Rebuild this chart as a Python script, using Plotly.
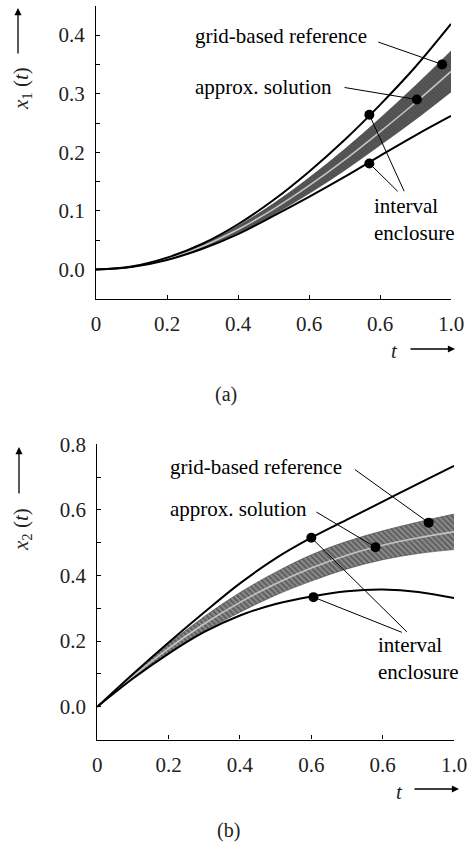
import plotly.graph_objects as go

# ---------------- data ----------------
t = [0.0, 0.1, 0.2, 0.3, 0.4, 0.5, 0.6, 0.7, 0.8, 0.9, 1.0]

# panel (a): x1(t)
x1_ref_upper = [0.0, 0.0052, 0.0202, 0.0440, 0.0772, 0.1186, 0.167, 0.221, 0.281, 0.346, 0.419]
x1_ref_lower = [0.0, 0.0042, 0.0162, 0.0355, 0.0605, 0.0915, 0.124, 0.158, 0.194, 0.229, 0.262]
x1_approx = [0.0, 0.0047, 0.0182, 0.0398, 0.0683, 0.103, 0.143, 0.187, 0.235, 0.285, 0.338]
x1_encl_upper = [0.0, 0.0051, 0.0197, 0.0433, 0.0745, 0.1125, 0.1565, 0.205, 0.258, 0.314, 0.373]
x1_encl_lower = [0.0, 0.0043, 0.0167, 0.0363, 0.0621, 0.0935, 0.1295, 0.169, 0.212, 0.256, 0.303]
x1_dot_t = [0.975, 0.904, 0.77, 0.77]
x1_dot_v = [0.350, 0.290, 0.264, 0.181]

# panel (b): x2(t)
x2_ref_upper = [0.0, 0.100, 0.196, 0.288, 0.376, 0.452, 0.515, 0.570, 0.625, 0.680, 0.734]
x2_ref_lower = [0.0, 0.086, 0.162, 0.228, 0.278, 0.313, 0.336, 0.352, 0.357, 0.350, 0.331]
x2_approx = [0.0, 0.093, 0.178, 0.253, 0.318, 0.375, 0.423, 0.462, 0.492, 0.515, 0.533]
x2_encl_upper = [0.0, 0.099, 0.192, 0.275, 0.348, 0.410, 0.463, 0.504, 0.536, 0.563, 0.587]
x2_encl_lower = [0.0, 0.087, 0.164, 0.231, 0.288, 0.340, 0.383, 0.420, 0.448, 0.467, 0.479]
x2_dot_t = [0.929, 0.78, 0.60, 0.606]
x2_dot_v = [0.561, 0.486, 0.515, 0.334]

x_tick_vals = [0, 0.2, 0.4, 0.6, 0.8, 1.0]
x_tick_text = ["0", "0.2", "0.4", "0.6", "0.6", "1.0"]
y1_tick_vals = [0.0, 0.1, 0.2, 0.3, 0.4]
y1_tick_text = ["0.0", "0.1", "0.2", "0.3", "0.4"]
y2_tick_vals = [0.0, 0.2, 0.4, 0.6, 0.8]
y2_tick_text = ["0.0", "0.2", "0.4", "0.6", "0.8"]

label_ref = "grid-based reference"
label_approx = "approx. solution"
label_encl = "interval<br>enclosure"

# ---------------- figure ----------------
W, H = 469, 844
SERIF = "Liberation Serif, Times New Roman, DejaVu Serif, serif"


def px(x):
    return x / W


def py(y):
    return 1 - y / H


fig = go.Figure()


def add_panel(xa, ya, ref_up, ref_lo, approx, enc_up, enc_lo, dot_t, dot_v, pattern):
    fig.add_trace(go.Scatter(x=t, y=enc_lo, mode="lines", line=dict(color="#444", width=0.6, shape="spline"),
                             xaxis=xa, yaxis=ya, showlegend=False, hoverinfo="skip"))
    fig.add_trace(go.Scatter(x=t, y=enc_up, mode="lines", line=dict(color="#444", width=0.6, shape="spline"),
                             fill="tonexty", fillcolor=pattern["bgcolor"], fillpattern=pattern,
                             xaxis=xa, yaxis=ya, showlegend=False, hoverinfo="skip"))
    fig.add_trace(go.Scatter(x=t, y=approx, mode="lines", line=dict(color="#c4c4c4", width=1.6, shape="spline"),
                             xaxis=xa, yaxis=ya, showlegend=False))
    for ys in (ref_up, ref_lo):
        fig.add_trace(go.Scatter(x=t, y=ys, mode="lines", line=dict(color="black", width=2, shape="spline"),
                                 xaxis=xa, yaxis=ya, showlegend=False))
    fig.add_trace(go.Scatter(x=dot_t, y=dot_v, mode="markers", marker=dict(color="black", size=10),
                             xaxis=xa, yaxis=ya, showlegend=False))


add_panel("x", "y", x1_ref_upper, x1_ref_lower, x1_approx, x1_encl_upper, x1_encl_lower,
          x1_dot_t, x1_dot_v,
          dict(shape="\\", fgcolor="#444444", bgcolor="#585858", size=3, solidity=0.5))
add_panel("x2", "y2", x2_ref_upper, x2_ref_lower, x2_approx, x2_encl_upper, x2_encl_lower,
          x2_dot_t, x2_dot_v,
          dict(shape="\\", fgcolor="#2e2e2e", bgcolor="#8c8c8c", size=4, solidity=0.5))

axis_font = dict(family=SERIF, size=21, color="#222")
common_x = dict(range=[0, 1], tickvals=x_tick_vals, ticktext=x_tick_text, showline=True, linecolor="black",
                linewidth=1.3, ticks="inside", ticklen=4, tickcolor="black", showgrid=False, zeroline=False,
                tickfont=axis_font, ticklabelstandoff=6, fixedrange=True, automargin=False)
common_y = dict(showline=True, linecolor="black", linewidth=1.3, ticks="inside", ticklen=4, tickcolor="black",
                showgrid=False, zeroline=False, tickfont=axis_font, ticklabelstandoff=6, fixedrange=True,
                automargin=False)

fig.update_layout(
    width=W, height=H, autosize=False, margin=dict(l=0, r=0, t=0, b=0, pad=0, autoexpand=False),
    paper_bgcolor="white", plot_bgcolor="white",
    font=dict(family=SERIF),
    xaxis=dict(common_x, domain=[px(96), px(451)], anchor="y"),
    yaxis=dict(common_y, domain=[py(298.8), py(5.8)], anchor="x", range=[-0.05, 0.45],
               tickvals=y1_tick_vals, ticktext=y1_tick_text,
               minor=dict(ticks="inside", ticklen=4, tickcolor="black", dtick=0.05, tick0=0.05)),
    xaxis2=dict(common_x, domain=[px(97.3), px(454)], anchor="y2"),
    yaxis2=dict(common_y, domain=[py(739.6), py(444.2)], anchor="x2", range=[-0.1, 0.8],
                tickvals=y2_tick_vals, ticktext=y2_tick_text,
                minor=dict(ticks="inside", ticklen=4, tickcolor="black", dtick=0.1, tick0=0.1)),
)

label_font = dict(family=SERIF, size=21, color="black")
ann = []


def leader(xr, yr, head_t, head_v, tail_t, tail_v):
    ann.append(dict(xref=xr, yref=yr, x=head_t, y=head_v, axref=xr, ayref=yr, ax=tail_t, ay=tail_v,
                    text="", showarrow=True, arrowhead=0, arrowwidth=1, arrowcolor="black",
                    standoff=0, startstandoff=0))


def label(xr, yr, x, y, text):
    ann.append(dict(xref=xr, yref=yr, x=x, y=y, text=text, showarrow=False, xanchor="left",
                    yanchor="middle", align="left", font=label_font))


# panel (a) labels
label("x", "y", 0.273, 0.398, label_ref)
label("x", "y", 0.273, 0.311, label_approx)
label("x", "y", 0.777, 0.086, label_encl)
leader("x", "y", x1_dot_t[0], x1_dot_v[0], 0.791, 0.389)
leader("x", "y", x1_dot_t[1], x1_dot_v[1], 0.696, 0.311)
leader("x", "y", x1_dot_t[2], x1_dot_v[2], 0.870, 0.131)
leader("x", "y", x1_dot_t[3], x1_dot_v[3], 0.854, 0.131)

# panel (b) labels
label("x2", "y2", 0.197, 0.731, label_ref)
label("x2", "y2", 0.198, 0.602, label_approx)
label("x2", "y2", 0.781, 0.146, label_encl)
leader("x2", "y2", x2_dot_t[0], x2_dot_v[0], 0.718, 0.726)
leader("x2", "y2", x2_dot_t[1], x2_dot_v[1], 0.61, 0.596)
leader("x2", "y2", x2_dot_t[2], x2_dot_v[2], 0.872, 0.224)
leader("x2", "y2", x2_dot_t[3], x2_dot_v[3], 0.858, 0.225)


def paper_text(x, y, text, angle=0, size=21):
    ann.append(dict(xref="paper", yref="paper", x=px(x), y=py(y), text=text, showarrow=False,
                    xanchor="center", yanchor="middle", textangle=angle,
                    font=dict(family=SERIF, size=size, color="#222")))


def paper_arrow(hx, hy, dx, dy):
    ann.append(dict(xref="paper", yref="paper", x=px(hx), y=py(hy), axref="pixel", ayref="pixel",
                    ax=dx, ay=dy, text="", showarrow=True, arrowhead=2, arrowsize=1.1, arrowwidth=1.3,
                    arrowcolor="black", standoff=0))


# axis titles
paper_text(22, 89, "<i>x</i><sub>1</sub> (<i>t</i>)", angle=-90)
paper_arrow(18, 8, 0, 47)
paper_text(22, 530, "<i>x</i><sub>2</sub> (<i>t</i>)", angle=-90)
paper_arrow(19, 447, 0, 48)
paper_text(394, 351, "<i>t</i>")
paper_arrow(455, 349, -46, 0)
paper_text(399, 792, "<i>t</i>")
paper_arrow(459, 789, -46, 0)
paper_text(226, 394, "(a)", size=20)
paper_text(228, 830, "(b)", size=20)

fig.update_layout(annotations=ann)
fig.write_html("out.html",
               config={"displayModeBar": False},
               post_script="document.body.style.margin='0px';document.body.style.padding='0px';"
                           "document.body.style.overflow='hidden';")
